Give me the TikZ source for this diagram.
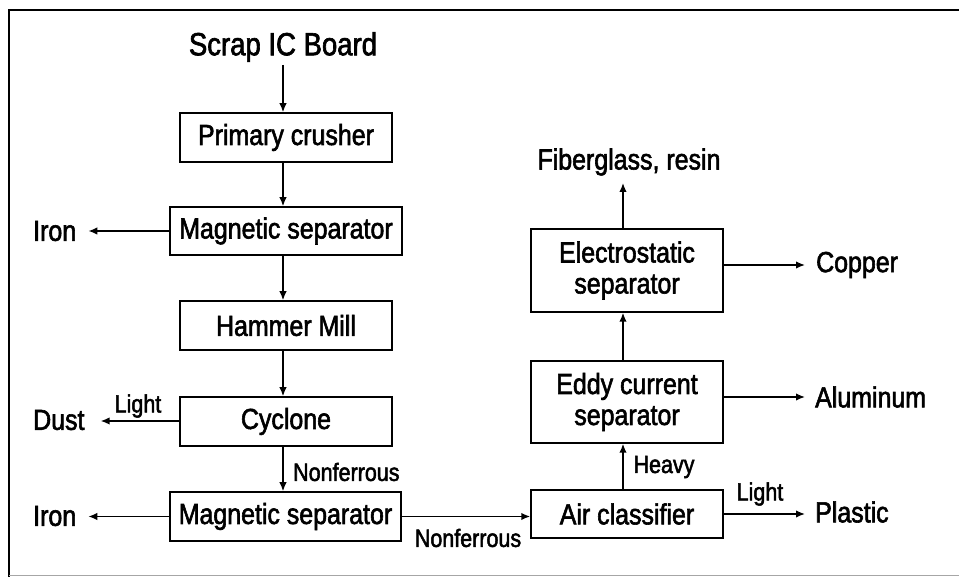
\documentclass[tikz,border=0pt]{standalone}
\usepackage{fontspec}
\setmainfont{Liberation Sans}[FakeStretch=0.86,FakeBold=2]
\usetikzlibrary{arrows.meta}
\begin{document}
\begin{tikzpicture}[x=1pt,y=1pt,
  box/.style={draw,line width=1.5pt,inner sep=0pt,align=center,
    font=\fontsize{29}{31}\selectfont},
  lbl/.style={inner sep=0pt,font=\fontsize{29}{31}\selectfont},
  small/.style={inner sep=0pt,font=\fontsize{25}{27}\selectfont},
  arr/.style={line width=1.5pt,-{Latex[length=9pt,width=7.5pt]}}]
\useasboundingbox (0,0) rectangle (959,577);
% frame
\draw[line width=1.8pt] (9,0) -- (9,567) -- (959,567);
\draw[line width=0.6pt,black!35] (9,2) -- (959,2);
% left column
\node[lbl,font=\fontsize{32}{34}\selectfont] (scrap) at (283,530) {Scrap IC Board};
\node[box,minimum width=212pt,minimum height=49pt] (crush) at (286,439.5) {Primary crusher};
\node[box,minimum width=232pt,minimum height=48pt] (mag1) at (286,346) {Magnetic separator};
\node[box,minimum width=212pt,minimum height=49pt] (hammer) at (286,251.5) {Hammer Mill};
\node[box,minimum width=212pt,minimum height=49pt] (cyc) at (286,155.5) {Cyclone};
\node[box,minimum width=231pt,minimum height=49pt] (mag2) at (285.5,60.5) {Magnetic separator};
\node[lbl,anchor=west] (iron1) at (33,346) {Iron};
\node[lbl,anchor=west] (dust) at (33,157) {Dust};
\node[lbl,anchor=west] (iron2) at (33,61) {Iron};
\node[small] (light1) at (138,171) {Light};
\node[small,anchor=west] (nonf1) at (293,105) {Nonferrous};
\node[small] (nonf2) at (468,39) {Nonferrous};
% right column
\node[box,minimum width=192pt,minimum height=48pt] (air) at (627,63) {Air classifier};
\node[box,minimum width=192pt,minimum height=82pt] (eddy) at (627,175) {Eddy current\\separator};
\node[box,minimum width=192pt,minimum height=83pt] (elec) at (627,306.5) {Electrostatic\\separator};
\node[lbl] (fiber) at (629,415) {Fiberglass, resin};
\node[lbl,anchor=west] (copper) at (816,312) {Copper};
\node[lbl,anchor=west] (alu) at (815,180) {Aluminum};
\node[lbl,anchor=west] (plastic) at (815,65) {Plastic};
\node[small] (light2) at (760,83) {Light};
\node[small] (heavy) at (664,110) {Heavy};
% connectors
\coordinate (scrapout) at (283,512);
\coordinate (fiberin) at (623,394);
\draw[arr] (scrapout) -- (283,0 |- crush.north);
\draw[arr] (283,0 |- crush.south) -- (283,0 |- mag1.north);
\draw[arr] (283,0 |- mag1.south) -- (283,0 |- hammer.north);
\draw[arr] (283,0 |- hammer.south) -- (283,0 |- cyc.north);
\draw[arr] (283,0 |- cyc.south) -- (283,0 |- mag2.north);
\draw[arr] (mag1.west) -- ([xshift=12pt]iron1.east |- mag1.west);
\draw[arr] (cyc.west |- 0,156) -- ([xshift=16pt]dust.east |- 0,156);
\draw[arr] (mag2.west) -- ([xshift=12pt]iron2.east |- mag2.west);
\draw[arr] (mag2.east) -- (air.west |- mag2.east);
\draw[arr] (623,0 |- air.north) -- (623,0 |- eddy.south);
\draw[arr] (623,0 |- eddy.north) -- (623,0 |- elec.south);
\draw[arr] (623,0 |- elec.north) -- (fiberin);
\draw[arr] (elec.east |- 0,312) -- ([xshift=-11pt]copper.west);
\draw[arr] (eddy.east |- 0,180) -- ([xshift=-10pt]alu.west |- 0,180);
\draw[arr] (air.east |- 0,63) -- ([xshift=-10pt]plastic.west |- 0,63);
\end{tikzpicture}
\end{document}
